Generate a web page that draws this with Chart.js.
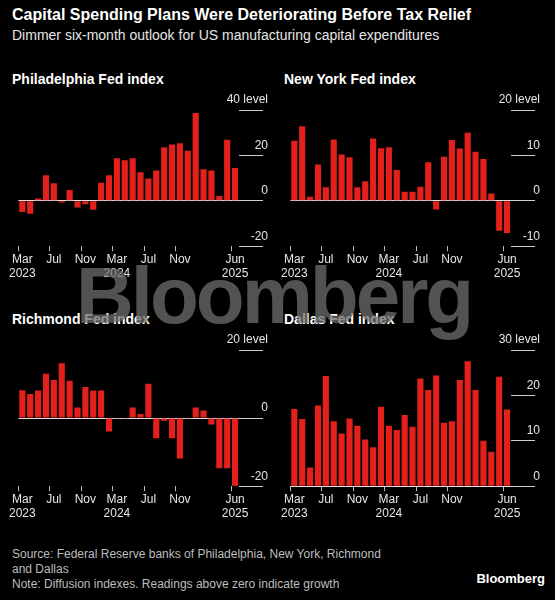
<!DOCTYPE html>
<html>
<head>
<meta charset="utf-8">
<script src="https://cdn.jsdelivr.net/npm/chart.js@4.4.1/dist/chart.umd.min.js"></script>
<style>
  body { margin: 0; background: #000; color: #fff; font-family: "Liberation Sans", Arial, sans-serif; width: 555px; height: 600px; position: relative; overflow: hidden; }
  .t { position: absolute; left: 12px; }
  #title { top: 6px; font-size: 16px; font-weight: bold; }
  #sub { top: 27px; font-size: 14px; color: #e6e6e6; }
  .ptitle { position: absolute; font-size: 14px; font-weight: bold; }
  .box { position: absolute; width: 265px; height: 190px; }
  #foot { top: 547px; font-size: 12px; color: #bdbdbd; line-height: 15px; }
  #logo { position: absolute; right: 10px; top: 571px; font-weight: bold; font-size: 13px; }
  #wm { position: absolute; left: 76px; top: 250px; font-size: 80px; font-weight: bold; color: rgba(110,110,110,0.75); letter-spacing: -3px; pointer-events: none; }
</style>
</head>
<body>
<div class="t" id="title">Capital Spending Plans Were Deteriorating Before Tax Relief</div>
<div class="t" id="sub">Dimmer six-month outlook for US manufacturing capital expenditures</div>
<div class="ptitle" style="left:12px;top:71px">Philadelphia Fed index</div>
<div class="ptitle" style="left:284px;top:71px">New York Fed index</div>
<div class="ptitle" style="left:12px;top:311px">Richmond Fed index</div>
<div class="ptitle" style="left:284px;top:311px">Dallas Fed index</div>
<div class="box" style="left:8px;top:92px"><canvas id="c1"></canvas></div>
<div class="box" style="left:280px;top:92px"><canvas id="c2"></canvas></div>
<div class="box" style="left:8px;top:332px"><canvas id="c3"></canvas></div>
<div class="box" style="left:280px;top:332px"><canvas id="c4"></canvas></div>
<div id="wm">Bloomberg</div>
<div class="t" id="foot">Source: Federal Reserve banks of Philadelphia, New York, Richmond<br>and Dallas<br>Note: Diffusion indexes. Readings above zero indicate growth</div>
<div id="logo">Bloomberg</div>
<script>
// Mar 2023 .. Jun 2025, monthly
const months = ['Mar','Apr','May','Jun','Jul','Aug','Sep','Oct','Nov','Dec','Jan','Feb'];
const labels = [];
for (let i = 0; i < 28; i++) {
    const m = months[i % 12];
    const y = 2023 + Math.floor((i + 2) / 12);
    labels.push(m + ' ' + y);
}

const philly = [-4.9, -5.7, 1, 11.3, 7.7, -0.8, 4.8, -3, -1.5, -3.9, 7.9, 11.3, 18.7, 17.9,
    18.7, 12.6, 9.8, 13.4, 23.6, 24.8, 25.4, 22.1, 38.7, 13.9, 13.3, 2.1, 26.9, 14.4];
const newYork = [13.2, 16.4, 0.9, 8, 3, 13.5, 10.2, 9.6, 3, 4.3, 13.7, 11.6, 11.8, 6.8,
    2, 2, 3.1, 8.5, -1.9, 9.7, 13.4, 11.5, 15, 10.8, 9.2, 1.6, -6.6, -7.1];
const richmond = [8.2, 7.1, 8.1, 13, 11.2, 16.1, 11, 3.1, 9.1, 8.1, 8.1, -3.9, -0.2, -0.2,
    3.1, 1.2, 10.1, -5.9, -0.8, -5.9, -11.9, -0.2, 3.1, 2.2, -1.9, -14.7, -14.7, -19.9];
const dallas = [17, 14.8, 4.1, 17.8, 24.3, 14.3, 11.6, 14.9, 13.3, 10.3, 8.6, 17.5, 13.3, 12.4,
    15.7, 13.1, 23.7, 21.2, 24.4, 14, 14.3, 23.4, 27.5, 21.2, 10, 7.6, 24.1, 16.9];

function _tickShown(i) {
    return (i % 4 === 0 && i <= 20) || i === 27;
}

function _tickLabel(i) {
    if (!_tickShown(i)) return '';
    const [m, y] = labels[i].split(' ');
    return (i === 0 || i === 12 || i === 27) ? [m, y] : m;
}

// y tick labels sit above their tick line, right-aligned at the axis edge
const yLabelPlugin = {
    id: 'yLabels',
    afterDraw(chart) {
        const s = chart.scales.y;
        const ctx = chart.ctx;
        ctx.save();
        ctx.fillStyle = '#e6e6e6';
        ctx.font = '12px "Liberation Sans"';
        ctx.textAlign = 'right';
        ctx.textBaseline = 'bottom';
        for (const t of s.ticks) {
            const txt = t.value === s.max ? t.value + ' level' : String(t.value);
            ctx.fillText(txt, s.right - 1, s.getPixelForValue(t.value) - 4);
        }
        ctx.restore();
    },
};

function _makeChart(id, data, min, max, step) {
    new Chart(document.getElementById(id), {
        type: 'bar',
        data: {
            labels,
            datasets: [{ data, backgroundColor: '#e3201b', categoryPercentage: 1, barPercentage: 0.78 }],
        },
        plugins: [yLabelPlugin],
        options: {
            responsive: true, maintainAspectRatio: false, animation: false,
            layout: { padding: { left: 0, right: 4, top: 18 } },
            plugins: { legend: { display: false }, tooltip: { enabled: false } },
            scales: {
                x: {
                    grid: {
                        drawOnChartArea: false, tickLength: 5,
                        tickColor: ctx => _tickShown(ctx.index) ? '#bbb' : 'transparent',
                    },
                    border: { display: false },
                    ticks: {
                        autoSkip: false, maxRotation: 0, color: '#e6e6e6', padding: 1,
                        font: { size: 12, family: 'Liberation Sans' },
                        callback: (v, i) => _tickLabel(i),
                    },
                },
                y: {
                    position: 'right', min, max,
                    grid: {
                        drawOnChartArea: true, tickLength: 24,
                        color: ctx => ctx.tick && ctx.tick.value === 0 ? '#ddd' : 'transparent',
                        tickColor: '#ccc', lineWidth: 1,
                    },
                    border: { display: false },
                    ticks: { stepSize: step, display: false },
                    afterFit: s => { s.width = 30; },
                },
            },
        },
    });
}

_makeChart('c1', philly, -20, 40, 20);
_makeChart('c2', newYork, -10, 20, 10);
_makeChart('c3', richmond, -20, 20, 20);
_makeChart('c4', dallas, 0, 30, 10);
</script>
</body>
</html>
